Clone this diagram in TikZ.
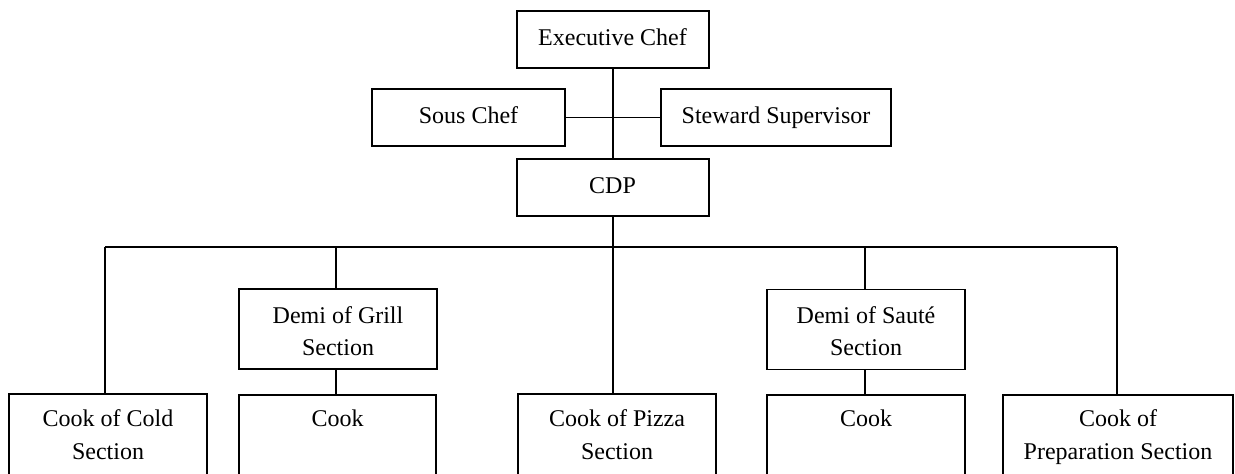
\documentclass[tikz,border=0pt]{standalone}
\usepackage{fontspec}
\setmainfont{Liberation Serif}
\begin{document}
\begin{tikzpicture}[x=0.5pt,y=-0.5pt,
  box/.style={draw, line width=0.9pt, inner sep=0pt, minimum height=#1},
  box/.default=28.5pt,
  txt/.style={anchor=base, inner sep=0pt, font=\fontsize{12pt}{14pt}\selectfont},
  link/.style={line width=0.9pt}]
\useasboundingbox (0,0) rectangle (1235,473);
\clip (0,0) rectangle (1235,473);
% top part
\node[box, minimum width=96pt] (exec) at (613,39.5) {};
\node[box, minimum width=96.5pt] (sous) at (468.5,117.5) {};
\node[box, minimum width=115pt] (stew) at (776,117.5) {};
\node[box, minimum width=96pt] (cdp) at (613,187.5) {};
\node[txt] (texec) at (612.5,45) {Executive Chef};
\node[txt] (tsous) at (468.5,123.3) {Sous Chef};
\node[txt] (tstew) at (776,123.3) {Steward Supervisor};
\node[txt] (tcdp) at (612.5,193.3) {CDP};
% middle boxes
\node[box=40pt, minimum width=99pt] (grill) at (338,329) {};
\node[box=40pt, minimum width=99pt] (saute) at (866,329.5) {};
\node[txt] (tgrill1) at (338,323.3) {Demi of Grill};
\node[txt] (tgrill2) at (338,355) {Section};
\node[txt] (tsaute1) at (866,323.3) {Demi of Saut\'e};
\node[txt] (tsaute2) at (866,355) {Section};
% bottom boxes (cut by the lower edge)
\node[box=46pt, minimum width=99pt, anchor=north] (cold) at (108,393) {};
\node[box=45.5pt, minimum width=98.5pt, anchor=north] (cookg) at (337.5,394) {};
\node[box=46pt, minimum width=99pt, anchor=north] (pizza) at (617,393) {};
\node[box=45.5pt, minimum width=99pt, anchor=north] (cooks) at (866,394) {};
\node[box=45.5pt, minimum width=115pt, anchor=north] (prep) at (1118,394) {};
\node[txt] (tcold1) at (108,426) {Cook of Cold};
\node[txt] (tcold2) at (108,459.3) {Section};
\node[txt] (tcookg) at (337.5,426.7) {Cook};
\node[txt] (tpizza1) at (617,426.7) {Cook of Pizza};
\node[txt] (tpizza2) at (617,459.3) {Section};
\node[txt] (tcooks) at (866,426.7) {Cook};
\node[txt] (tprep1) at (1118,426.7) {Cook of};
\node[txt] (tprep2) at (1118,459.3) {Preparation Section};
% bus coordinates
\coordinate (b1) at (105,247);
\coordinate (b2) at (336,247);
\coordinate (b3) at (613,247);
\coordinate (b4) at (865,247);
\coordinate (b5) at (1117,247);
% connectors
\draw[link] (exec.south) -- (cdp.north);
\draw[link] (sous.east) -- (stew.west);
\draw[link] (cdp.south) -- (b3);
\draw[link] (b1) -- (b5);
\draw[link] (b1) -- (b1 |- cold.north);
\draw[link] (b2) -- (b2 |- grill.north);
\draw[link] (b3) -- (b3 |- pizza.north);
\draw[link] (b4) -- (b4 |- saute.north);
\draw[link] (b5) -- (b5 |- prep.north);
\draw[link] (grill.south -| b2) -- (b2 |- cookg.north);
\draw[link] (saute.south -| b4) -- (b4 |- cooks.north);
\end{tikzpicture}
\end{document}
